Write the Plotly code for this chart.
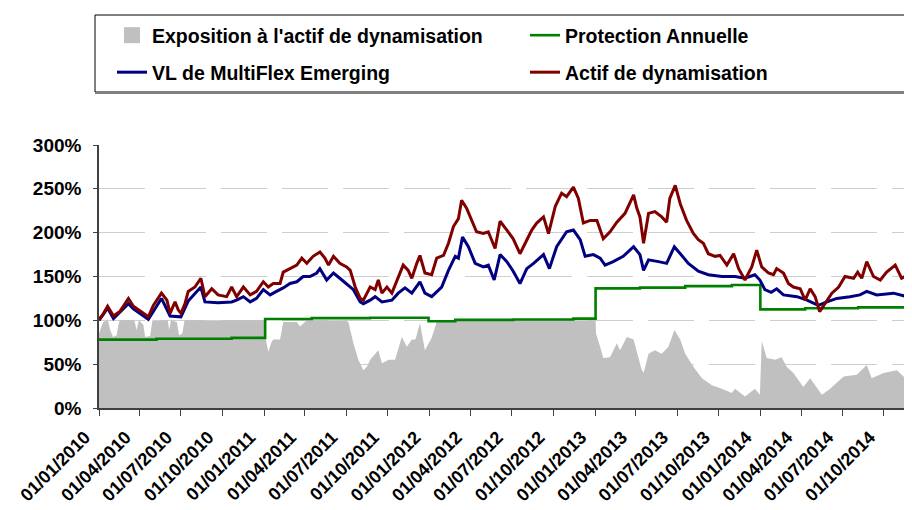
import plotly.graph_objects as go

# ---------------- data ----------------
actif_dates = [
    "2010-01-01", "2010-01-09", "2010-01-20", "2010-02-02", "2010-02-16", "2010-03-07", "2010-03-18",
    "2010-03-29", "2010-04-13", "2010-04-20", "2010-05-01", "2010-05-19", "2010-05-31", "2010-06-07",
    "2010-06-18", "2010-06-25", "2010-07-01", "2010-07-10", "2010-07-17", "2010-08-01", "2010-08-14",
    "2010-08-23", "2010-09-07", "2010-09-21", "2010-10-10", "2010-10-21", "2010-11-01", "2010-11-16",
    "2010-12-01", "2010-12-15", "2010-12-30", "2011-01-10", "2011-01-21", "2011-02-05", "2011-02-12",
    "2011-02-27", "2011-03-14", "2011-03-25", "2011-04-05", "2011-04-19", "2011-05-04", "2011-05-15",
    "2011-05-23", "2011-06-03", "2011-06-17", "2011-07-02", "2011-07-10", "2011-07-21", "2011-08-01",
    "2011-08-08", "2011-08-23", "2011-09-03", "2011-09-10", "2011-09-18", "2011-09-29", "2011-10-10",
    "2011-10-24", "2011-11-04", "2011-11-15", "2011-11-23", "2011-12-04", "2011-12-11", "2011-12-22",
    "2012-01-06", "2012-01-17", "2012-02-01", "2012-02-12", "2012-02-23", "2012-03-05", "2012-03-12",
    "2012-03-23", "2012-04-03", "2012-04-14", "2012-04-29", "2012-05-10", "2012-05-25", "2012-06-05",
    "2012-06-20", "2012-07-04", "2012-07-19", "2012-07-30", "2012-08-14", "2012-08-25", "2012-09-09",
    "2012-09-20", "2012-10-05", "2012-10-19", "2012-10-30", "2012-11-14", "2012-11-25", "2012-12-06",
    "2012-12-21", "2013-01-05", "2013-01-19", "2013-02-03", "2013-02-18", "2013-03-08", "2013-03-27",
    "2013-04-03", "2013-04-10", "2013-04-18", "2013-04-29", "2013-05-13", "2013-05-28", "2013-06-08",
    "2013-06-15", "2013-06-27", "2013-07-08", "2013-07-22", "2013-08-06", "2013-08-17", "2013-08-28",
    "2013-09-08", "2013-09-23", "2013-10-04", "2013-10-19", "2013-11-03", "2013-11-14", "2013-11-28",
    "2013-12-13", "2013-12-24", "2014-01-04", "2014-01-19", "2014-01-30", "2014-02-06", "2014-02-21",
    "2014-03-04", "2014-03-15", "2014-03-30", "2014-04-10", "2014-04-21", "2014-05-02", "2014-05-12",
    "2014-05-24", "2014-06-08", "2014-06-23", "2014-07-07", "2014-07-26", "2014-08-04", "2014-08-13",
    "2014-08-24", "2014-09-08", "2014-09-23", "2014-10-07", "2014-10-26", "2014-11-09", "2014-11-24",
    "2014-12-02",
]
actif_values = [
    101, 106, 116, 105, 110, 125, 116,
    112, 106, 104, 117, 131, 123, 108,
    121, 112, 108, 119, 133, 138, 148,
    127, 136, 129, 127, 138, 127, 138,
    129, 133, 144, 138, 142, 142, 155,
    159, 163, 171, 165, 173, 178, 171,
    163, 173, 165, 161, 157, 138, 125,
    123, 138, 135, 146, 131, 138, 131,
    150, 163, 157, 148, 165, 174, 154,
    152, 171, 174, 188, 207, 216, 237,
    228, 214, 201, 199, 201, 182, 213,
    203, 193, 176, 188, 203, 211, 218,
    199, 230, 245, 241, 252, 239, 211,
    214, 214, 193, 201, 212, 222, 243,
    228, 218, 188, 222, 224, 218, 212,
    239, 254, 233, 214, 199, 192, 188,
    176, 173, 174, 163, 176, 159, 146,
    161, 180, 161, 154, 152, 159, 154,
    142, 138, 136, 123, 136, 127, 110,
    119, 131, 138, 150, 148, 155, 148,
    167, 150, 146, 155, 163, 148, 152,
    150,
]

vl_dates = [
    "2010-01-01", "2010-01-20", "2010-02-02", "2010-03-07", "2010-03-18", "2010-04-20", "2010-05-19",
    "2010-06-07", "2010-07-01", "2010-07-17", "2010-08-14", "2010-08-23", "2010-09-21", "2010-10-21",
    "2010-11-01", "2010-11-16", "2010-12-01", "2010-12-15", "2010-12-30", "2011-01-14", "2011-01-28",
    "2011-02-12", "2011-02-27", "2011-03-14", "2011-03-28", "2011-04-12", "2011-04-27", "2011-05-04",
    "2011-05-19", "2011-06-03", "2011-06-17", "2011-07-02", "2011-07-17", "2011-08-01", "2011-08-08",
    "2011-08-23", "2011-09-03", "2011-09-18", "2011-10-10", "2011-10-24", "2011-11-08", "2011-11-23",
    "2011-12-11", "2011-12-22", "2012-01-06", "2012-01-28", "2012-02-12", "2012-02-27", "2012-03-05",
    "2012-03-14", "2012-03-27", "2012-04-11", "2012-04-29", "2012-05-10", "2012-05-23", "2012-06-05",
    "2012-06-20", "2012-07-04", "2012-07-19", "2012-08-03", "2012-08-18", "2012-09-09", "2012-09-22",
    "2012-10-08", "2012-10-30", "2012-11-14", "2012-11-29", "2012-12-10", "2012-12-28", "2013-01-12",
    "2013-01-23", "2013-02-10", "2013-03-04", "2013-03-27", "2013-04-10", "2013-04-18", "2013-04-29",
    "2013-05-21", "2013-06-08", "2013-06-25", "2013-07-08", "2013-07-26", "2013-08-17", "2013-09-08",
    "2013-10-08", "2013-11-06", "2013-11-28", "2013-12-20", "2013-12-31", "2014-01-11", "2014-01-25",
    "2014-02-06", "2014-02-21", "2014-03-23", "2014-04-14", "2014-05-09", "2014-05-28", "2014-06-19",
    "2014-07-18", "2014-08-09", "2014-08-24", "2014-09-15", "2014-10-22", "2014-11-21", "2014-12-02",
]
vl_values = [
    100, 114, 102, 119, 113, 101, 125,
    105, 104, 122, 138, 121, 120, 121,
    123, 127, 121, 125, 135, 129, 133,
    137, 142, 144, 150, 150, 154, 159,
    146, 154, 148, 142, 135, 121, 119,
    123, 127, 121, 123, 131, 137, 131,
    144, 131, 127, 138, 157, 173, 171,
    195, 184, 165, 161, 163, 146, 175,
    167, 156, 142, 159, 165, 175, 159,
    184, 201, 203, 192, 173, 175, 171,
    163, 167, 173, 184, 175, 157, 169,
    167, 165, 184, 176, 165, 156, 152,
    150, 150, 148, 152, 146, 135, 132,
    136, 129, 127, 123, 117, 121, 125,
    127, 129, 133, 129, 131, 127, 127,
]

protection_dates = [
    "2010-01-01", "2010-05-08", "2010-10-21", "2011-01-03", "2011-04-16", "2011-08-23",
    "2011-12-30", "2012-02-27", "2012-07-04", "2012-11-14", "2013-01-02", "2013-04-10",
    "2013-07-19", "2013-10-30", "2014-01-01", "2014-04-10", "2014-08-05", "2014-12-02",
]
protection_values = [
    78, 79, 80, 101.5, 102.5, 103,
    99, 100.5, 101, 102, 136.5, 137.3,
    139, 140.3, 112.5, 113.7, 114.8, 115.5,
]

expo_dates = [
    "2010-01-01", "2010-01-10", "2010-01-21", "2010-01-25", "2010-02-01", "2010-02-09", "2010-02-13",
    "2010-02-16", "2010-03-20", "2010-03-25", "2010-03-30", "2010-04-09", "2010-04-13", "2010-04-24",
    "2010-04-29", "2010-06-02", "2010-06-05", "2010-06-09", "2010-06-22", "2010-06-27", "2010-07-04",
    "2010-07-09", "2011-01-03", "2011-01-04", "2011-01-10", "2011-01-17", "2011-01-21", "2011-02-05",
    "2011-02-12", "2011-03-14", "2011-03-21", "2011-04-05", "2011-06-29", "2011-07-06", "2011-07-17",
    "2011-07-28", "2011-08-08", "2011-08-16", "2011-08-23", "2011-09-10", "2011-09-18", "2011-10-03",
    "2011-10-17", "2011-11-01", "2011-11-12", "2011-11-23", "2011-12-01", "2011-12-11", "2011-12-22",
    "2012-01-06", "2012-01-17", "2012-01-28", "2013-01-02", "2013-01-03", "2013-01-12", "2013-01-19",
    "2013-02-03", "2013-02-18", "2013-02-25", "2013-03-12", "2013-03-27", "2013-04-05", "2013-04-13",
    "2013-04-18", "2013-04-29", "2013-05-13", "2013-05-28", "2013-06-12", "2013-06-25", "2013-07-08",
    "2013-07-19", "2013-08-06", "2013-08-25", "2013-09-16", "2013-10-08", "2013-10-30", "2013-11-06",
    "2013-11-28", "2013-12-20", "2013-12-31", "2014-01-04", "2014-01-15", "2014-02-03", "2014-02-17",
    "2014-02-28", "2014-03-15", "2014-04-06", "2014-04-21", "2014-05-17", "2014-06-04", "2014-07-04",
    "2014-08-02", "2014-08-24", "2014-09-04", "2014-09-30", "2014-10-30", "2014-11-21", "2014-12-02",
]
expo_values = [
    85, 98, 100, 90, 81, 83, 95,
    100, 100, 89, 100, 95, 81, 82,
    100, 100, 89, 100, 98, 83, 85,
    100, 100, 80, 64, 75, 78, 78,
    98, 98, 93, 100, 100, 98, 74,
    55, 43, 47, 55, 66, 51, 55,
    55, 81, 70, 78, 78, 97, 66,
    80, 98, 100, 100, 85, 70, 57,
    58, 74, 66, 81, 78, 62, 45,
    40, 62, 66, 62, 70, 89, 78,
    62, 47, 34, 26, 22, 17, 22,
    13, 22, 15, 76, 57, 55, 58,
    47, 40, 24, 34, 15, 22, 36,
    38, 49, 34, 40, 43, 32, 28,
]

y_tick_values = [0, 50, 100, 150, 200, 250, 300]
y_tick_text = ["0%", "50%", "100%", "150%", "200%", "250%", "300%"]
x_range = ["2010-01-01", "2014-12-02"]

names = ["Exposition à l'actif de dynamisation", "Protection Annuelle",
         "VL de MultiFlex Emerging", "Actif de dynamisation"]
colors = {"expo": "#C0C0C0", "prot": "#008000", "vl": "#000080", "actif": "#800000"}

FONT = "Liberation Sans, Arial, sans-serif"

# The page body adds an 8px margin, so the figure is 904x502 and positions
# below are in figure pixels (= page pixels - 8).
W, H = 904, 502

fig = go.Figure()

fig.add_trace(go.Scatter(
    x=expo_dates, y=expo_values, mode="lines", fill="tozeroy",
    line=dict(width=0, color=colors["expo"]), fillcolor=colors["expo"],
    showlegend=False, name=names[0], hoverinfo="skip"))

# legend-only entry for the grey square
fig.add_trace(go.Scatter(
    x=[None], y=[None], mode="markers", name=names[0],
    marker=dict(symbol="square", size=16, color=colors["expo"]),
    legend="legend"))

fig.add_trace(go.Scatter(
    x=protection_dates, y=protection_values, mode="lines", line_shape="hv",
    line=dict(width=2.6, color=colors["prot"]), name=names[1], legend="legend2"))

fig.add_trace(go.Scatter(
    x=vl_dates, y=vl_values, mode="lines",
    line=dict(width=3, color=colors["vl"]), name=names[2], legend="legend3"))

fig.add_trace(go.Scatter(
    x=actif_dates, y=actif_values, mode="lines",
    line=dict(width=3, color=colors["actif"]), name=names[3], legend="legend4"))

leg_font = dict(family=FONT, size=19.5, color="#000000", weight="bold")
def leg(x, y):
    return dict(x=x, y=y, xref="container", yref="container", xanchor="left", yanchor="top",
                orientation="v", bgcolor="rgba(0,0,0,0)", borderwidth=0, font=leg_font,
                itemwidth=30)

fig.update_layout(
    width=W, height=H,
    margin=dict(l=91, r=0, t=137, b=102, autoexpand=False),
    paper_bgcolor="white", plot_bgcolor="white",
    legend=leg(104 / W, 1 - 8 / H),
    legend2=leg(517 / W, 1 - 8 / H),
    legend3=leg(104 / W, 1 - 45 / H),
    legend4=leg(517 / W, 1 - 45 / H),
    xaxis=dict(
        type="date", range=x_range,
        tick0="2010-01-01", dtick="M3", tickformat="%d/%m/%Y",
        tickangle=-45, ticks="outside", ticklen=6, tickwidth=1, tickcolor="#404040",
        showline=True, linecolor="#404040", linewidth=1.5, showgrid=False, zeroline=False,
        ticklabelstandoff=4, ticklabelshift=-14,
        tickfont=dict(family=FONT, size=18, color="#000000", weight="bold"),
    ),
    yaxis=dict(
        range=[0, 300], tickmode="array", tickvals=y_tick_values, ticktext=y_tick_text,
        ticks="outside", ticklen=4, tickwidth=1, tickcolor="#404040",
        showline=True, linecolor="#404040", linewidth=1.5,
        showgrid=True, gridcolor="#CFCFCF", gridwidth=1.2, griddash="46px,15px",
        zeroline=False, ticklabelstandoff=8,
        tickfont=dict(family=FONT, size=19, color="#000000", weight="bold"),
    ),
    shapes=[
        dict(type="rect", xref="paper", yref="paper",
             x0=(95 - 99) / 813, x1=(907 - 99) / 813,
             y0=(408 - 92) / 263, y1=(408 - 15) / 263,
             line=dict(color="#000000", width=1), fillcolor="rgba(0,0,0,0)", layer="below"),
        dict(type="line", xref="paper", yref="paper",
             x0=(95 - 99) / 813, x1=(907 - 99) / 813,
             y0=(408 - 93) / 263, y1=(408 - 93) / 263,
             line=dict(color="#808080", width=2)),
    ],
)

fig.write_html("out.html")
